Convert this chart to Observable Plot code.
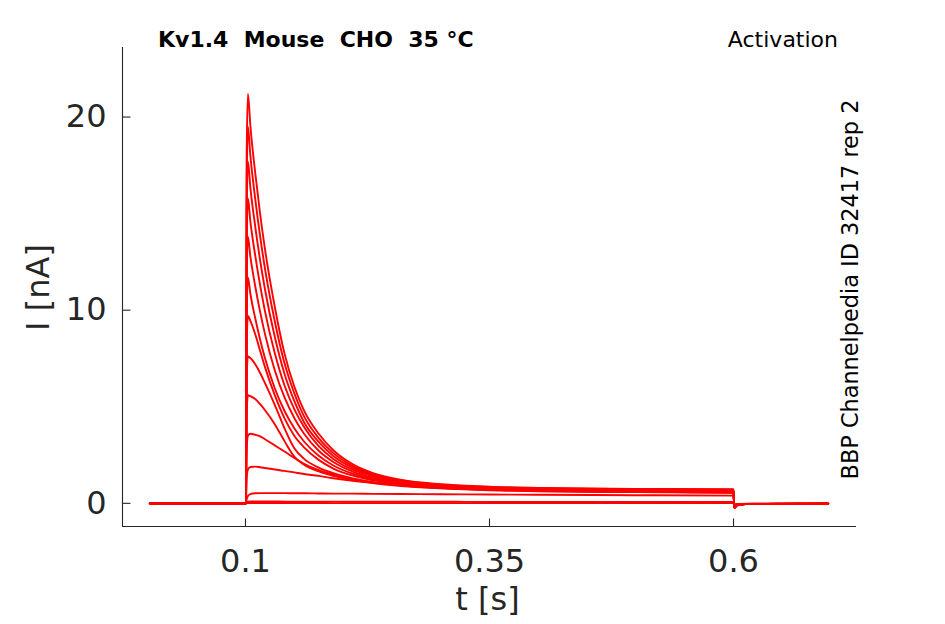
<!DOCTYPE html>
<html>
<head>
<meta charset="utf-8">
<script src="https://cdn.jsdelivr.net/npm/d3@7"></script>
<script src="https://cdn.jsdelivr.net/npm/@observablehq/plot@0.6"></script>
<style>
  html, body { margin: 0; padding: 0; background: #fff; }
  #chart { width: 945px; height: 624px; }
</style>
</head>
<body>
<div id="chart"></div>
<script>
// ---- data ----
const title = "Kv1.4  Mouse  CHO  35 °C";
const protocol = "Activation";
const sideNote = "BBP Channelpedia ID 32417 rep 2";
const xLabel = "t [s]";
const yLabel = "I [nA]";
const xTicks = [0.1, 0.35, 0.6];
const yTicks = [0, 10, 20];
const xDomain = [-0.026, 0.726];
const yDomain = [-1.2, 23.6];

// sample times (s), shared by all sweeps
const times = [0.002, 0.1005, 0.1012, 0.1025, 0.105, 0.11, 0.115, 0.12, 0.13, 0.14, 0.15, 0.16, 0.175, 0.19, 0.21, 0.23, 0.26, 0.3, 0.35, 0.4, 0.5, 0.6, 0.6008, 0.604, 0.62, 0.697];

// current (nA) of each sweep at those times
const sweep01 = [0, 0, 18.0, 21.2, 19.55, 17.1, 14.98, 13.15, 10.18, 7.75, 6.05, 4.8, 3.6, 2.75, 2.02, 1.58, 1.21, 0.99, 0.86, 0.8, 0.75, 0.73, -0.25, -0.1, -0.03, -0.02];
const sweep02 = [0, 0, 16.5, 19.5, 18.0, 15.75, 13.82, 12.14, 9.43, 7.25, 5.7, 4.5, 3.38, 2.6, 1.93, 1.52, 1.18, 0.96, 0.84, 0.78, 0.73, 0.71, -0.24, -0.1, -0.03, -0.02];
const sweep03 = [0, 0, 15.0, 17.7, 16.35, 14.33, 12.58, 11.07, 8.62, 6.7, 5.3, 4.2, 3.18, 2.45, 1.84, 1.46, 1.14, 0.94, 0.81, 0.76, 0.71, 0.69, -0.23, -0.09, -0.03, -0.02];
const sweep04 = [0, 0, 13.4, 15.8, 14.6, 12.82, 11.28, 9.94, 7.78, 6.1, 4.88, 3.95, 2.96, 2.3, 1.74, 1.4, 1.1, 0.91, 0.79, 0.74, 0.69, 0.67, -0.22, -0.09, -0.03, -0.02];
const sweep05 = [0, 0, 11.7, 13.8, 12.78, 11.24, 9.91, 8.76, 6.89, 5.48, 4.42, 3.6, 2.72, 2.14, 1.64, 1.33, 1.06, 0.88, 0.77, 0.72, 0.67, 0.65, -0.21, -0.08, -0.03, -0.02];
const sweep06 = [0, 0, 9.9, 11.7, 10.85, 9.58, 8.47, 7.51, 5.96, 4.78, 3.89, 3.2, 2.46, 1.96, 1.53, 1.26, 1.02, 0.86, 0.75, 0.7, 0.65, 0.63, -0.2, -0.08, -0.03, -0.02];
const sweep07 = [0, 0, 8.2, 9.7, 9.45, 8.75, 7.9, 7.05, 5.6, 4.4, 3.5, 2.9, 2.25, 1.8, 1.43, 1.2, 0.98, 0.83, 0.73, 0.68, 0.63, 0.61, -0.2, -0.08, -0.03, -0.02];
const sweep08 = [0, 0, 6.4, 7.6, 7.52, 7.2, 6.75, 6.22, 5.1, 3.88, 2.85, 2.3, 1.85, 1.56, 1.29, 1.1, 0.92, 0.79, 0.7, 0.65, 0.61, 0.59, -0.19, -0.07, -0.03, -0.02];
const sweep09 = [0, 0, 4.6, 5.6, 5.55, 5.4, 5.13, 4.82, 4.1, 3.22, 2.42, 2.0, 1.65, 1.42, 1.2, 1.05, 0.9, 0.78, 0.68, 0.62, 0.58, 0.56, -0.18, -0.07, -0.03, -0.02];
const sweep10 = [0, 0, 2.8, 3.5, 3.6, 3.55, 3.47, 3.32, 3.0, 2.68, 2.35, 2.05, 1.72, 1.48, 1.25, 1.09, 0.93, 0.8, 0.7, 0.64, 0.59, 0.56, -0.17, -0.07, -0.03, -0.02];
const sweep11 = [0, 0, 1.3, 1.75, 1.88, 1.9, 1.87, 1.83, 1.75, 1.68, 1.6, 1.52, 1.42, 1.3, 1.17, 1.07, 0.95, 0.85, 0.77, 0.7, 0.61, 0.55, -0.16, -0.06, -0.03, -0.02];
const sweep12 = [0, 0, 0.2, 0.38, 0.48, 0.52, 0.53, 0.53, 0.53, 0.53, 0.52, 0.52, 0.51, 0.5, 0.5, 0.49, 0.48, 0.47, 0.46, 0.44, 0.42, 0.4, -0.12, -0.05, -0.03, -0.02];
const sweep13 = [0, 0, 0.04, 0.08, 0.1, 0.1, 0.1, 0.1, 0.1, 0.09, 0.09, 0.09, 0.09, 0.09, 0.08, 0.08, 0.08, 0.08, 0.07, 0.07, 0.07, 0.07, -0.08, -0.04, -0.02, -0.02];
const sweep14 = [0, 0, 0.01, 0.02, 0.02, 0.02, 0.02, 0.02, 0.02, 0.02, 0.02, 0.02, 0.02, 0.01, 0.01, 0.01, 0.01, 0.01, 0.01, 0.01, 0.01, 0.01, -0.05, -0.03, -0.02, -0.02];

const sweeps = [sweep01, sweep02, sweep03, sweep04, sweep05, sweep06, sweep07,
                sweep08, sweep09, sweep10, sweep11, sweep12, sweep13, sweep14];

// ---- tidy table for Plot ----
const rows = [];
sweeps.forEach((s, k) => s.forEach((v, j) => rows.push({sweep: k, t: times[j], I: v})));

const ink = "#262626";
const font = "DejaVu Sans, Liberation Sans, sans-serif";

const W = 945, H = 624, mL = 122, mR = 89, mT = 47, mB = 98;
const tickPx = 8;
// inward tick length expressed in data units of each scale
const tickX = tickPx * (xDomain[1] - xDomain[0]) / (W - mL - mR);
const tickY = tickPx * (yDomain[1] - yDomain[0]) / (H - mT - mB);
const xTickRows = xTicks.map(v => ({v, a: yDomain[0], b: yDomain[0] + tickY}));
const yTickRows = yTicks.map(v => ({v, a: xDomain[0], b: xDomain[0] + tickX}));

const svg = Plot.plot({
  width: W,
  height: H,
  marginLeft: mL,
  marginRight: mR,
  marginTop: mT,
  marginBottom: mB,
  style: {fontFamily: font, background: "#fff", color: ink},
  x: {domain: xDomain},
  y: {domain: yDomain},
  marks: [
    Plot.line(rows, {x: "t", y: "I", z: "sweep", stroke: "#ff0000", strokeWidth: 1.9, curve: "monotone-x"}),
    Plot.ruleX([xDomain[0]], {stroke: ink, strokeWidth: 1.1}),
    Plot.ruleY([yDomain[0]], {stroke: ink, strokeWidth: 1.1}),
    Plot.link(xTickRows, {x1: "v", x2: "v", y1: "a", y2: "b", stroke: ink, strokeWidth: 1.1}),
    Plot.link(yTickRows, {x1: "a", x2: "b", y1: "v", y2: "v", stroke: ink, strokeWidth: 1.1}),
    Plot.axisX(xTicks, {
      anchor: "bottom", tickSize: 0, tickPadding: 23, label: null,
      tickFormat: d => String(d), fontSize: 32, fill: ink
    }),
    Plot.axisY(yTicks, {
      anchor: "left", tickSize: 0, tickPadding: 16, label: null,
      tickFormat: d => String(d), fontSize: 32, fill: ink
    })
  ]
});

const sel = d3.select(svg);
sel.append("text")
  .attr("x", 158).attr("y", 47).attr("text-anchor", "start")
  .attr("font-family", font).attr("font-size", 22).attr("font-weight", "bold")
  .attr("fill", "#000").text(title);
sel.append("text")
  .attr("x", 838).attr("y", 47).attr("text-anchor", "end")
  .attr("font-family", font).attr("font-size", 22)
  .attr("fill", "#000").text(protocol);
sel.append("text")
  .attr("transform", "translate(858,289.5) rotate(-90)")
  .attr("text-anchor", "middle")
  .attr("font-family", font).attr("font-size", 22.4)
  .attr("fill", "#000").text(sideNote);
sel.append("text")
  .attr("x", 487.5).attr("y", 610).attr("text-anchor", "middle")
  .attr("font-family", font).attr("font-size", 32)
  .attr("fill", ink).text(xLabel);
sel.append("text")
  .attr("transform", "translate(49.3,287.5) rotate(-90)")
  .attr("text-anchor", "middle")
  .attr("font-family", font).attr("font-size", 32)
  .attr("fill", ink).text(yLabel);

document.getElementById("chart").appendChild(svg);
</script>
</body>
</html>
